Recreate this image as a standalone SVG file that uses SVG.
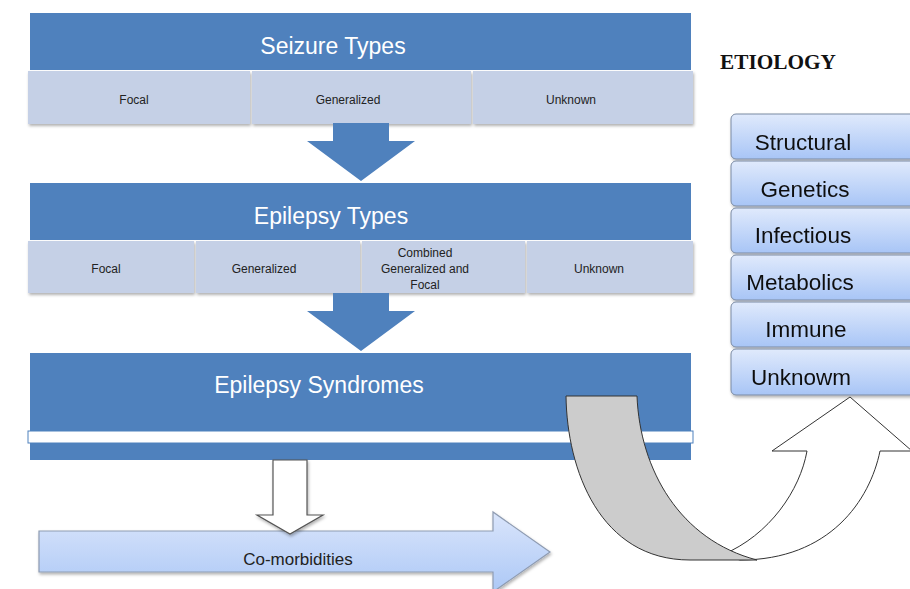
<svg xmlns="http://www.w3.org/2000/svg" width="910" height="589" viewBox="0 0 910 589">
<style>
.hdr{fill:#4f81bd}
.cell{fill:#c5d0e6}
.ttl{font-family:"Liberation Sans",Arial,sans-serif;font-size:23px;fill:#ffffff;text-anchor:middle}
.sub{font-family:"Liberation Sans",Arial,sans-serif;font-size:12px;fill:#222222;text-anchor:middle}
.eti{fill:url(#etiGrad);stroke:#7a8aa3;stroke-width:1}
.etxt{font-family:"Liberation Sans",Arial,sans-serif;font-size:22.5px;fill:#111111;text-anchor:middle}
.blue-arrow{fill:#4f81bd}
</style>
<defs>
<linearGradient id="etiGrad" x1="0" y1="0" x2="0" y2="1">
<stop offset="0" stop-color="#e0eafc"/>
<stop offset="1" stop-color="#a8c5f6"/>
</linearGradient>
<linearGradient id="comGrad" x1="0" y1="0" x2="0" y2="1">
<stop offset="0" stop-color="#dae5fb"/>
<stop offset="1" stop-color="#acc8f6"/>
</linearGradient>
<filter id="sh" x="-10%" y="-10%" width="130%" height="140%">
<feDropShadow dx="1" dy="2" stdDeviation="1.5" flood-color="#000" flood-opacity="0.3"/>
</filter>
</defs>

<g id="seizure-types">
<rect class="hdr" x="30" y="13" width="661" height="57"/>
<text class="ttl" x="333" y="54">Seizure Types</text>
<g filter="url(#sh)">
<rect class="cell" x="28" y="71" width="222" height="53"/>
<rect class="cell" x="252" y="71" width="219" height="53"/>
<rect class="cell" x="473" y="71" width="220" height="53"/>
</g>
<text class="sub" x="134" y="104">Focal</text>
<text class="sub" x="348" y="104">Generalized</text>
<text class="sub" x="571" y="104">Unknown</text>
</g>

<g id="epilepsy-types">
<rect class="hdr" x="30" y="183" width="661" height="57"/>
<text class="ttl" x="331" y="224">Epilepsy Types</text>
<g filter="url(#sh)">
<rect class="cell" x="28" y="241" width="166" height="52"/>
<rect class="cell" x="196" y="241" width="164" height="52"/>
<rect class="cell" x="362" y="241" width="163" height="52"/>
<rect class="cell" x="527" y="241" width="166" height="52"/>
</g>
<text class="sub" x="106" y="273">Focal</text>
<text class="sub" x="264" y="273">Generalized</text>
<text class="sub" x="425" y="257">Combined</text>
<text class="sub" x="425" y="273">Generalized and</text>
<text class="sub" x="425" y="289">Focal</text>
<text class="sub" x="599" y="273">Unknown</text>
</g>

<g id="epilepsy-syndromes">
<rect class="hdr" x="30" y="353" width="661" height="107"/>
<text class="ttl" x="319" y="393">Epilepsy Syndromes</text>
</g>

<g id="etiology-title">
<text x="720" y="69" font-family="'Liberation Serif','Times New Roman',serif" font-weight="bold" font-size="21.3" fill="#111111">ETIOLOGY</text>
</g>

<g id="etiology" filter="url(#sh)">
<g id="eti-structural"><rect class="eti" x="731" y="114" width="200" height="45" rx="5"/><text class="etxt" x="803" y="150">Structural</text></g>
<g id="eti-genetics"><rect class="eti" x="731" y="161" width="200" height="45" rx="5"/><text class="etxt" x="805" y="197">Genetics</text></g>
<g id="eti-infectious"><rect class="eti" x="731" y="208" width="200" height="45" rx="5"/><text class="etxt" x="803" y="243">Infectious</text></g>
<g id="eti-metabolics"><rect class="eti" x="731" y="255" width="200" height="45" rx="5"/><text class="etxt" x="800" y="290">Metabolics</text></g>
<g id="eti-immune"><rect class="eti" x="731" y="302" width="200" height="45" rx="5"/><text class="etxt" x="806" y="337">Immune</text></g>
<g id="eti-unknown"><rect class="eti" x="731" y="349" width="200" height="46" rx="5"/><text class="etxt" x="801" y="385">Unknowm</text></g>
</g>

<g id="comorbidities">
<path d="M39,531 L493,531 L493,512 L550,552 L493,592 L493,572 L39,572 Z" fill="url(#comGrad)" stroke="#8e9bb1" stroke-width="1.2" filter="url(#sh)"/>
<text x="298" y="565" font-family="'Liberation Sans',Arial,sans-serif" font-size="17" fill="#222222" text-anchor="middle">Co-morbidities</text>
</g>

<g id="connectors">
<path class="blue-arrow" d="M333,123 L389,123 L389,141 L415,141 L361,181 L307,141 L333,141 Z"/>
<path class="blue-arrow" d="M333,293 L389,293 L389,311 L415,311 L361,351 L307,311 L333,311 Z"/>
<path d="M273,460 L307,460 L307,515 L323,515 L290,534 L257,515 L273,515 Z" fill="#ffffff" stroke="#555555" stroke-width="1.2" filter="url(#sh)"/>
<path d="M740,560 C830,560 870,500 880,451 L912,451 L850,397 L772,451 L807,451 C800,490 770,535 722,555 Z" fill="#ffffff" stroke="#333333" stroke-width="1"/>
<rect x="28" y="431" width="665" height="12" fill="#ffffff" stroke="#4f81bd" stroke-width="1"/>
<path d="M566,396 L637,396 C640,470 680,540 757,560 L690,560 C600,560 567,470 566,396 Z" fill="#cccccc" stroke="#333333" stroke-width="1"/>
</g>
</svg>
